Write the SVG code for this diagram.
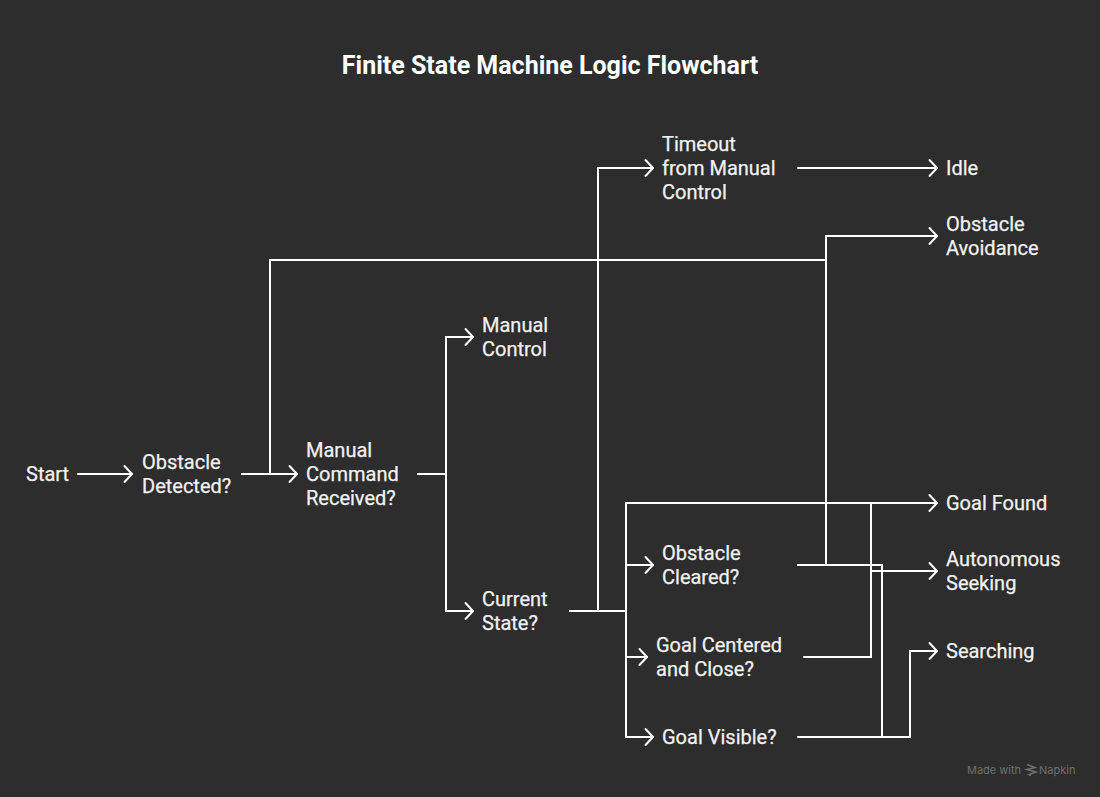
<svg xmlns="http://www.w3.org/2000/svg" width="1100" height="797" viewBox="0 0 1100 797">
<style>
.t{font-family:"Roboto","Liberation Sans",sans-serif;font-size:20px;font-weight:400;fill:#f2f2f2;stroke:#f2f2f2;stroke-width:.25px}
.c{fill:none;stroke:#fff;stroke-width:2;stroke-linecap:round;stroke-linejoin:miter}
.a{marker-end:url(#arrow)}
.w{font-family:"Inter","Roboto",sans-serif;font-size:11px;fill:#6f6f6f}
</style>
<defs>
<marker id="arrow" markerUnits="userSpaceOnUse" markerWidth="14" markerHeight="20" refX="10" refY="10" orient="auto" viewBox="0 0 14 20"><path d="M2.500 2L10 10L2.500 18" fill="none" stroke="#fff" stroke-width="2" stroke-linecap="round" stroke-linejoin="round"/></marker>
</defs>
<rect width="1100" height="797" fill="#2d2d2d"/>
<text x="550" y="74" text-anchor="middle" style="font-family:Roboto,'Liberation Sans',sans-serif;font-size:25px;font-weight:700;fill:#fff">Finite State Machine Logic Flowchart</text>
<g id="connectors">
<path class="c a" d="M78 474H132"/>
<path class="c a" d="M242 474H297"/>
<path class="c a" d="M242 474H270V260H826V236H937"/>
<path class="c a" d="M418 474H446V337H473"/>
<path class="c a" d="M418 474H446V611H473"/>
<path class="c a" d="M570 611H598V168H653"/>
<path class="c a" d="M798 168H937"/>
<path class="c a" d="M570 611H626V503H937"/>
<path class="c a" d="M570 611H626V565H653"/>
<path class="c a" d="M570 611H626V657H647"/>
<path class="c a" d="M570 611H626V737H653"/>
<path class="c" d="M798 565H826V260"/>
<path class="c" d="M798 565H882V737"/>
<path class="c a" d="M871 571H937"/>
<path class="c" d="M804 657H871V503"/>
<path class="c a" d="M798 737H910V651H937"/>
</g>
<g id="n-start"><text class="t" x="26" y="481">Start</text></g>
<g id="n-obstacle-detected"><text class="t" x="142" y="469">Obstacle</text><text class="t" x="142" y="493">Detected?</text></g>
<g id="n-manual-command"><text class="t" x="306" y="457">Manual</text><text class="t" x="306" y="481">Command</text><text class="t" x="306" y="505">Received?</text></g>
<g id="n-manual-control"><text class="t" x="482" y="332">Manual</text><text class="t" x="482" y="356">Control</text></g>
<g id="n-current-state"><text class="t" x="482" y="606">Current</text><text class="t" x="482" y="630">State?</text></g>
<g id="n-timeout"><text class="t" x="662" y="151">Timeout</text><text class="t" x="662" y="175">from Manual</text><text class="t" x="662" y="199">Control</text></g>
<g id="n-obstacle-cleared"><text class="t" x="662" y="560">Obstacle</text><text class="t" x="662" y="584">Cleared?</text></g>
<g id="n-goal-centered"><text class="t" x="656" y="652">Goal Centered</text><text class="t" x="656" y="676">and Close?</text></g>
<g id="n-goal-visible"><text class="t" x="662" y="744">Goal Visible?</text></g>
<g id="n-idle"><text class="t" x="946" y="175">Idle</text></g>
<g id="n-obstacle-avoidance"><text class="t" x="946" y="231">Obstacle</text><text class="t" x="946" y="255">Avoidance</text></g>
<g id="n-goal-found"><text class="t" x="946" y="510">Goal Found</text></g>
<g id="n-autonomous"><text class="t" x="946" y="566">Autonomous</text><text class="t" x="946" y="590">Seeking</text></g>
<g id="n-searching"><text class="t" x="946" y="658">Searching</text></g>
<g id="watermark"><text class="w" x="967" y="773.500">Made with</text><path d="M1027 764.500L1035 767.500L1027 769.500L1036 772L1029 774.500L1031 775.500" fill="none" stroke="#6f6f6f" stroke-width="1.600"/><text class="w" x="1039" y="773.500">Napkin</text></g>
</svg>
